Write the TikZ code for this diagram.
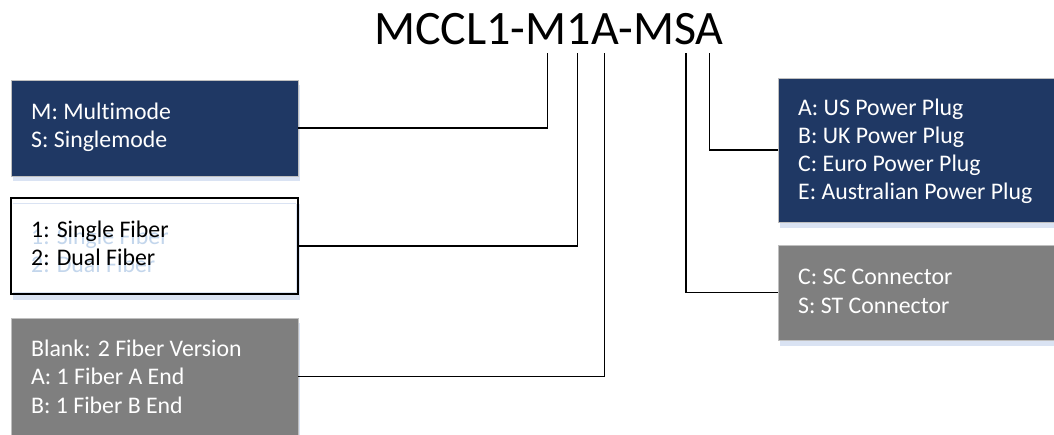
\documentclass[tikz,border=0pt]{standalone}
\usepackage{fontspec}
\setmainfont{Carlito}[Ligatures={NoCommon}]
\definecolor{navy}{HTML}{1F3864}
\definecolor{boxgray}{HTML}{7F7F7F}
\definecolor{shadowblue}{HTML}{DAE3F3}
\definecolor{ghostblue}{HTML}{C3D6EC}
\definecolor{edgegray}{HTML}{BFBFBF}
\begin{document}
\begin{tikzpicture}[x=1pt,y=-1pt,
  panel/.style={rectangle, inner sep=0pt, outer sep=0pt, anchor=north west},
  shadowpanel/.style={panel, fill=shadowblue},
  navypanel/.style={panel, fill=navy, draw=edgegray, line width=0.8pt},
  graypanel/.style={panel, fill=boxgray, draw=edgegray, line width=0.8pt},
  boxtext/.style={anchor=base west, inner sep=0pt, align=left, font=\fontsize{23.8}{28.2}\selectfont},
  conn/.style={draw=black, line width=1.5pt}]
\useasboundingbox (0,0) rectangle (1054,435);
\clip (0,0) rectangle (1054,435);
\fill[white] (0,0) rectangle (1054,435);

% title
\node[anchor=base, inner sep=0pt, font=\fontsize{48}{58}\selectfont] (title) at (549,45) {MCCL1-M1A-MSA};
\coordinate (t1) at (547.3,53);
\coordinate (t2) at (577.5,53);
\coordinate (t3) at (604.3,53);
\coordinate (t4) at (686,53);
\coordinate (t5) at (709.3,53);

% box 1 (text anchored at the baseline of its last line)
\node[shadowpanel, minimum width=287pt, minimum height=96pt] (s1) at (13,85) {};
\node[navypanel, minimum width=287pt, minimum height=96pt] (b1) at (11,80) {};
\node[boxtext, text=white] (x1) at (31,148) {M: Multimode\\S: Singlemode};

% box 2
\node[shadowpanel, minimum width=287pt, minimum height=96pt] (s2) at (13,204) {};
\node[panel, fill=white, minimum width=283pt, minimum height=92pt] (w2) at (13,200) {};
\draw[shadowblue, line width=1.2pt] (w2.north west) ++(0,3.5) -- ++(283,0);
\node[boxtext, text=ghostblue] (g2) at (31,273) {1: Single Fiber\\2: Dual Fiber};
\node[boxtext, text=black] (x2) at (31,266) {1: Single Fiber\\2: Dual Fiber};
\node[panel, draw=black, line width=2.5pt, minimum width=287pt, minimum height=96pt] (b2) at (11,198) {};

% box 3
\node[shadowpanel, minimum width=287pt, minimum height=117pt] (s3) at (13,323) {};
\node[graypanel, minimum width=287pt, minimum height=117pt] (b3) at (11,318) {};
\node[boxtext, text=white] (x3) at (31,413) {Blank: 2 Fiber Version\\A: 1 Fiber A End\\B: 1 Fiber B End};

% box 4
\node[shadowpanel, minimum width=290pt, minimum height=144pt] (s4) at (780,84) {};
\node[navypanel, minimum width=290pt, minimum height=144pt] (b4) at (778,78) {};
\node[boxtext, text=white] (x4) at (798,200) {A: US Power Plug\\B: UK Power Plug\\C: Euro Power Plug\\E: Australian Power Plug};

% box 5
\node[shadowpanel, minimum width=290pt, minimum height=95pt] (s5) at (780,251) {};
\node[graypanel, minimum width=290pt, minimum height=95pt] (b5) at (778,245) {};
\node[boxtext, text=white] (x5) at (798,313) {C: SC Connector\\S: ST Connector};

% connectors
\draw[conn] (b1.east) -| (t1);
\draw[conn] (b2.east) -| (t2);
\draw[conn] (b3.east) -| (t3);
\draw[conn] (b5.west) -| (t4);
\draw[conn] (b4.west) -| (t5);
\end{tikzpicture}
\end{document}
